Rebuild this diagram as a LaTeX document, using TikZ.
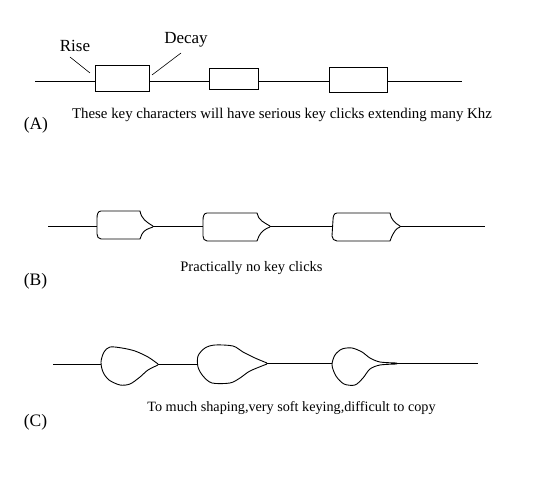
\documentclass[tikz,border=0pt]{standalone}
\usepackage{fontspec}
\setmainfont{Liberation Serif}
\usepackage{tikz}

\begin{document}
\begin{tikzpicture}[x=1pt,y=-1pt,line width=0.9pt]
          \useasboundingbox (0,0) rectangle (550,500);
          % (A) square keying
          \draw (35,81)--(95,81);
          \draw (95,65) rectangle (149,91);
          \draw (149,81)--(209,81);
          \draw (209,68) rectangle (258,89);
          \draw (258,81)--(329,81);
          \draw (329,67) rectangle (387,92);
          \draw (387,81)--(462,81);
          \node (rise) at (75,46) {\fontsize{17}{19}\selectfont Rise};
          \node (decay) at (186,40) {\fontsize{17}{19}\selectfont Decay};
          \coordinate (risept) at (90,73);
          \coordinate (decaypt) at (152,75);
          \draw[line width=0.6pt] (70,57)--(risept);
          \draw[line width=0.6pt] (181,53)--(decaypt);
          \node (capa) at (282,115) {\fontsize{14.85}{16}\selectfont These key characters will have serious key clicks extending many Khz};
          \node[anchor=west] (laba) at (20,125) {\fontsize{17.5}{19}\selectfont (A)};
          % (B) shaped keying
          \draw (48,226)--(97,226);
          \draw (153,226) to[out=150,in=-80] (140,211)--(101,211) to[out=180,in=90] (97,218)
                --(97,234) to[out=-90,in=180] (101,239)--(140,239)--(142,234) to[out=60,in=-160] (153,227);
          \draw (153,226)--(203,226);
          \draw (270,226) to[out=150,in=-80] (257,213)--(207,213) to[out=180,in=90] (203,220)
                --(203,236) to[out=-90,in=180] (207,241)--(257,241)--(259,236) to[out=60,in=-160] (270,227);
          \draw (270,226)--(332,226);
          \draw (400,226) to[out=150,in=-80] (390,213)--(337,213) to[out=180,in=90] (333,220)
                --(332,236) to[out=-90,in=180] (337,241)--(390,241)--(392,236) to[out=60,in=-160] (400,227);
          \draw (400,226)--(485,226);
          \node (capb) at (251.5,268) {\fontsize{14.5}{16}\selectfont Practically no key clicks};
          \node[anchor=west] (labb) at (20,281) {\fontsize{17.5}{19}\selectfont (B)};
          % (C) too much shaping
          \draw (53,364)--(101,364);
          \draw plot[smooth] coordinates {(158,364) (148,357) (135,351) (122,348) (110,347) (104,352) (101,362)
                (103,372) (109,380) (120,385) (130,384) (140,377) (148,370) (158,365)};
          \draw (158,364)--(197,364);
          \draw plot[smooth] coordinates {(267,363) (255,358) (243,352) (233,346) (215,345) (205,348) (198,356)
                (198,367) (203,376) (212,383) (230,383) (240,378) (250,371) (267,364)};
          \draw (267,363)--(332,363);
          \draw plot[smooth] coordinates {(397,363) (380,362) (370,358) (362,352) (352,348) (342,349) (335,355)
                (332,365) (336,376) (344,384) (355,385) (363,378) (370,369) (380,365) (397,364)};
          \draw (397,363)--(478,363);
          \node (capc) at (291.5,408) {\fontsize{14.2}{16}\selectfont To much shaping,very soft keying,difficult to copy};
          \node[anchor=west] (labc) at (20,422) {\fontsize{17.5}{19}\selectfont (C)};
        \end{tikzpicture}
\end{document}
